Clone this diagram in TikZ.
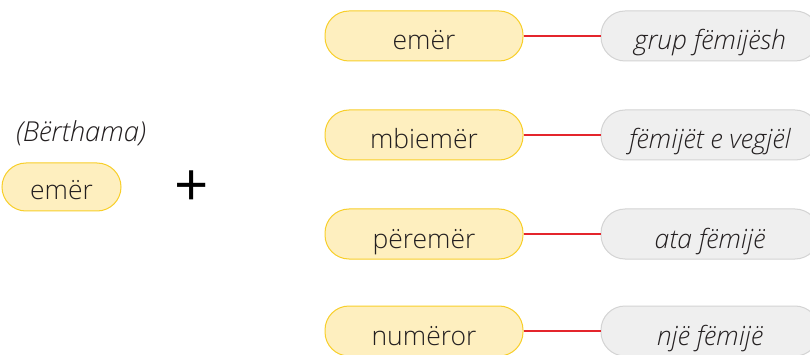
\documentclass[tikz,border=0pt]{standalone}
\usepackage{fontspec}
\setmainfont{Open Sans Light}[ItalicFont={Open Sans Light Italic}]
\newfontfamily\plusfont{Open Sans}
\definecolor{txt}{HTML}{231F20}
\definecolor{yfill}{HTML}{FEEFBF}
\definecolor{ydraw}{HTML}{F8CF2A}
\definecolor{gfill}{HTML}{EFEFEF}
\definecolor{gdraw}{HTML}{D4D4D4}
\definecolor{rline}{HTML}{E4252C}
\tikzset{
  ybox/.style={draw=ydraw, fill=yfill, line width=1pt, rounded corners=24pt,
    minimum width=198pt, minimum height=50pt, inner sep=0pt, text=txt,
    text height=28pt, text depth=0pt,
    font=\fontsize{26.5}{30}\selectfont},
  gbox/.style={draw=gdraw, fill=gfill, line width=1pt, rounded corners=24pt,
    minimum width=218pt, minimum height=50pt, inner sep=0pt, text=txt,
    text height=28pt, text depth=0pt,
    font=\fontsize{26.5}{30}\selectfont\itshape},
  link/.style={draw=rline, line width=2pt},
}
\begin{document}
\begin{tikzpicture}[x=1pt,y=-1pt]
\clip (0,0) rectangle (810,355);
\fill[white] (0,0) rectangle (810,355);
\node[font=\fontsize{27.5}{31}\selectfont\itshape, text=txt] (bert) at (81,133) {(Bërthama)};
\node[ybox, minimum width=119pt, minimum height=48pt, text height=25pt] (core) at (61.5,187) {emër};
\node[text=black, font=\plusfont\fontsize{60}{64}\selectfont] (plus) at (192,189) {+};
\foreach \n/\y/\a/\b in {r1/36/emër/grup fëmijësh, r2/135/mbiemër/fëmijët e vegjël, r3/234/përemër/ata fëmijë, r4/331/numëror/një fëmijë}{
  \node[ybox] (\n a) at (424,\y) {\a};
  \node[gbox] (\n b) at (710,\y) {\b};
  \draw[link] (\n a.east) -- (\n b.west);
}
\end{tikzpicture}
\end{document}
